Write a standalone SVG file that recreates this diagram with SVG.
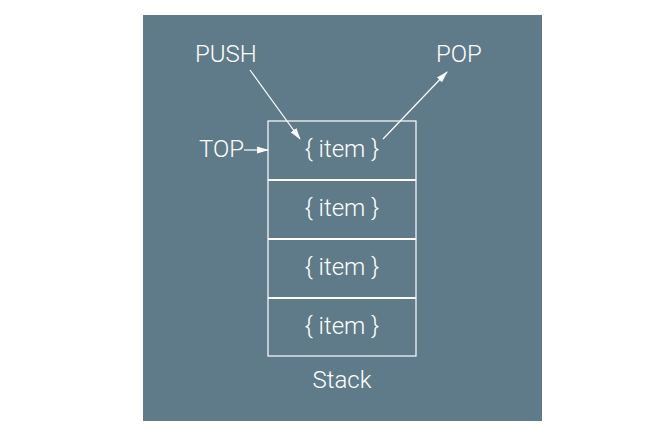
<svg xmlns="http://www.w3.org/2000/svg" width="668" height="430" viewBox="0 0 668 430">
<style>
text{font-family:Roboto,"Liberation Sans",sans-serif;font-weight:300;font-size:24px;fill:#ffffff}
.c{text-anchor:middle}
.box{fill:none;stroke:#ffffff;stroke-width:1.2}
.div{stroke:#ffffff;stroke-width:2}
.ln{stroke:#ffffff;stroke-width:1.2;fill:none}
</style>
<defs>
<marker id="ah" markerWidth="12" markerHeight="8" refX="11" refY="4" orient="auto" markerUnits="userSpaceOnUse">
<path d="M0,0.5 L12,4 L0,7.5 Z" fill="#ffffff"/>
</marker>
</defs>
<rect x="143" y="15" width="399" height="406" fill="#5f7b89"/>
<g id="stack">
<rect class="box" x="268" y="121" width="148" height="235"/>
<line class="div" x1="268" y1="180" x2="416" y2="180"/>
<line class="div" x1="268" y1="239" x2="416" y2="239"/>
<line class="div" x1="268" y1="298" x2="416" y2="298"/>
<text class="c" x="342" y="388">Stack</text>
</g>
<g id="item1"><text class="c" x="342" y="157">{ item }</text></g>
<g id="item2"><text class="c" x="342" y="216">{ item }</text></g>
<g id="item3"><text class="c" x="342" y="275">{ item }</text></g>
<g id="item4"><text class="c" x="342" y="334">{ item }</text></g>
<g id="push"><text x="195" y="62">PUSH</text></g>
<g id="pop"><text x="436" y="62">POP</text></g>
<g id="top"><text x="199" y="157">TOP</text></g>
<g id="connectors">
<line class="ln" x1="250" y1="70" x2="300" y2="139" marker-end="url(#ah)"/>
<line class="ln" x1="383" y1="139" x2="447" y2="72" marker-end="url(#ah)"/>
<line class="ln" x1="244" y1="150" x2="268" y2="150" marker-end="url(#ah)"/>
</g>
</svg>
